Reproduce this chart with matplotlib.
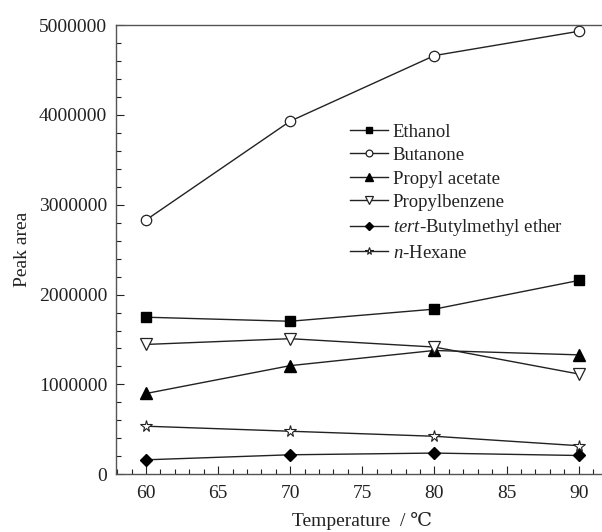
import matplotlib
matplotlib.use("Agg")
import matplotlib.pyplot as plt
from matplotlib.ticker import MultipleLocator

plt.rcParams['font.family'] = ['Liberation Serif', 'DejaVu Serif']
plt.rcParams['mathtext.fontset'] = 'custom'
plt.rcParams['mathtext.rm'] = 'Liberation Serif'
plt.rcParams['mathtext.it'] = 'Liberation Serif:italic'

temps = [60, 70, 80, 90]
ethanol = [1748000, 1703000, 1838000, 2157000]
butanone = [2830000, 3930000, 4660000, 4930000]
propyl_acetate = [899000, 1209000, 1378000, 1329000]
propylbenzene = [1445000, 1509000, 1416000, 1116000]
tert_butyl = [161000, 217000, 236000, 209000]
hexane = [535000, 479000, 423000, 318000]

labels = ["Ethanol", "Butanone", "Propyl acetate", "Propylbenzene",
          r"$\it{tert}$-Butylmethyl ether", r"$\it{n}$-Hexane"]

fig = plt.figure(figsize=(6.02, 5.32), dpi=100)
ax = fig.add_axes([0.1922, 0.1085, 0.817, 0.8445])

lc = '#222222'
ax.plot(temps, ethanol, color=lc, lw=1, marker='s', ms=7, mfc='black', mec='black', label=labels[0])
ax.plot(temps, butanone, color=lc, lw=1, marker='o', ms=7.5, mfc='white', mec=lc, mew=0.9, label=labels[1])
ax.plot(temps, propyl_acetate, color=lc, lw=1, marker='^', ms=8, mfc='black', mec='black', label=labels[2])
ax.plot(temps, propylbenzene, color=lc, lw=1, marker='v', ms=8, mfc='white', mec=lc, mew=0.9, label=labels[3])
ax.plot(temps, tert_butyl, color=lc, lw=1, marker='D', ms=6.5, mfc='black', mec='black', label=labels[4])
ax.plot(temps, hexane, color=lc, lw=1, marker='*', ms=8.5, mfc='white', mec=lc, mew=0.8, label=labels[5])

ax.set_xlim(57.9, 92)
ax.set_ylim(0, 5000000)
ax.xaxis.set_major_locator(MultipleLocator(5))
ax.xaxis.set_minor_locator(MultipleLocator(1))
ax.yaxis.set_major_locator(MultipleLocator(1000000))
ax.yaxis.set_minor_locator(MultipleLocator(200000))
ax.ticklabel_format(style='plain', axis='y', useOffset=False)
ax.tick_params(which='both', direction='in', top=False, right=False, labelsize=14, colors='#222222')
ax.tick_params(which='major', length=6, width=0.8)
ax.tick_params(which='minor', length=3.5, width=0.8)
ax.tick_params(axis='x', which='major', pad=8)
ax.tick_params(axis='y', which='major', pad=6)
for s in ax.spines.values():
    s.set_color('#555555')
    s.set_linewidth(1)
ax.spines['right'].set_visible(False)

ax.set_xlabel("Temperature  / \u2103", fontsize=14, color='#222222', labelpad=7)
ax.set_ylabel("Peak area", fontsize=14, color='#222222', labelpad=6)

leg = ax.legend(loc='upper left', bbox_to_anchor=(0.582, 0.768), bbox_transform=fig.transFigure,
                frameon=False, fontsize=13.5, handlelength=2.0, handletextpad=0.25,
                labelspacing=0.34, borderpad=0, borderaxespad=0, markerscale=0.65)
for t in leg.get_texts():
    t.set_color('#222222')

fig.savefig("out.png", dpi=100)
